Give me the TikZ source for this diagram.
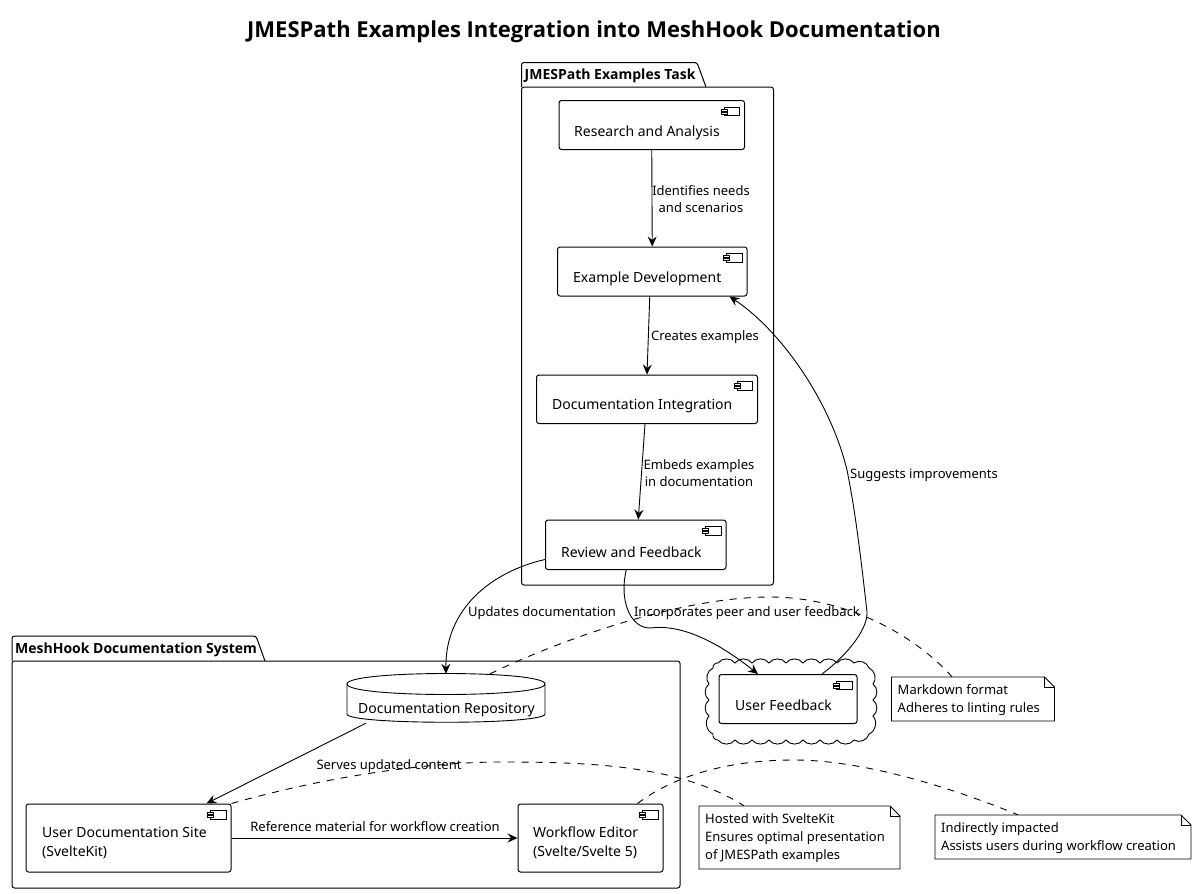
\documentclass[tikz,border=0pt]{standalone}
\usepackage{fontspec}
\setmainfont{Noto Sans}
\newfontfamily\headfont{Open Sans}
\usetikzlibrary{arrows.meta}
\tikzset{
  boxline/.style={draw=black,line width=1pt,rounded corners=2.5pt,inner sep=0pt,fill=white},
  lbl/.style={font=\fontsize{13}{16.5}\selectfont,align=center,inner sep=0pt},
  comptext/.style={font=\fontsize{14}{19}\selectfont,align=left,inner sep=0pt,anchor=west},
  pkgtext/.style={font=\headfont\fontsize{14}{16}\selectfont\bfseries,inner sep=0pt,anchor=west},
  conn/.style={line width=.9pt,-{Stealth[length=10pt,width=9pt,inset=3.5pt]}},
  dashline/.style={line width=.9pt,dash pattern=on 7pt off 7pt},
}
% name, x0,y0,x1,y1, textx,texty, text
\newcommand{\compbox}[8]{%
  \node[boxline,minimum width={(#4-#2)*1pt},minimum height={(#5-#3)*1pt}] (#1) at ({(#2+#4)/2},{(#3+#5)/2}) {};
  \draw[line width=.9pt,fill=white] (#4-20.5,#3+6.5) rectangle (#4-5,#3+15);
  \draw[line width=.9pt,fill=white] (#4-23.5,#3+8.5) rectangle (#4-17.5,#3+10.5);
  \draw[line width=.9pt,fill=white] (#4-23.5,#3+11.5) rectangle (#4-17.5,#3+13.5);
  \node[comptext] (#1t) at (#6,#7) {#8};
}
% name, x0,y0,x1,y1, text
\newcommand{\notebox}[6]{%
  \node[minimum width={(#4-#2)*1pt},minimum height={(#5-#3)*1pt},inner sep=0pt] (#1) at ({(#2+#4)/2},{(#3+#5)/2}) {};
  \draw[line width=.9pt,fill=white] (#2,#3) -- (#4-10,#3) -- (#4,#3+10) -- (#4,#5) -- (#2,#5) -- cycle;
  \draw[line width=.9pt] (#4-10,#3) -- (#4-10,#3+10) -- (#4,#3+10);
  \node[font=\fontsize{13}{18}\selectfont,align=left,inner sep=0pt,anchor=west] (#1t) at (#2+6,{(#3+#5)/2+1}) {#6};
}
% name, x0,ytab,ybody,tabx,x1,y1,text
\newcommand{\pkg}[8]{%
  \draw[line width=1pt,rounded corners=2.5pt] (#2,#4) -- (#2,#3) -- (#5-9,#3) -- (#5,#4);
  \draw[line width=1pt,rounded corners=2.5pt] (#2,#4) -- (#6,#4) -- (#6,#7) -- (#2,#7) -- cycle;
  \node[pkgtext] (#1) at (#2+3,{(#3+#4)/2+1}) {#8};
}
\begin{document}
\begin{tikzpicture}[x=1pt,y=-1pt]
\useasboundingbox (0,0) rectangle (1197,894);
\node[font=\headfont\fontsize{22}{26}\selectfont\bfseries,inner sep=0pt] (title) at (594,31.5) {JMESPath Examples Integration into MeshHook Documentation};

\pkg{pa}{521.5}{62.5}{87}{706}{773.5}{585}{JMESPath Examples Task}
\pkg{pb}{12}{636}{661}{265}{680}{888}{MeshHook Documentation System}

\compbox{rs}{559}{100.5}{744.5}{149.5}{574}{132.5}{Research and Analysis}
\compbox{ex}{557.5}{247}{747}{296}{573}{278.5}{Example Development}
\compbox{di}{536.5}{375}{757.5}{423.5}{552}{406.5}{Documentation Integration}
\compbox{rv}{545.5}{520}{726}{569.5}{561}{552.5}{Review and Feedback}

% cloud
\draw[line width=.9pt] (713,668) foreach \x in {718,735,752,769,786,803,820,837,854} { to[bend left=55] (\x,663) }
  to[bend left=55] (869,668) foreach \y in {684,700,716} { to[bend left=55] (873,\y) }
  to[bend left=55] (869,734) foreach \x in {854,837,820,803,786,769,752,735,718} { to[bend left=55] (\x,740) }
  to[bend left=55] (713,734) foreach \y in {716,700,684} { to[bend left=55] (709,\y) }
  to[bend left=55] (713,668);
\compbox{uf}{719}{674.5}{857}{723.5}{735}{705.5}{User Feedback}

% database
\node[inner sep=0pt,minimum width=198pt,minimum height=48pt] (db) at (446,698) {};
\draw[line width=.9pt,fill=white] (347,684) .. controls (347,670) and (545,670) .. (545,684)
  -- (545,714) .. controls (545,725) and (347,725) .. (347,714) -- cycle;
\draw[line width=.9pt] (347,684) .. controls (347,698) and (545,698) .. (545,684);
\node[comptext] (dbt) at (358,710) {Documentation Repository};

\compbox{site}{26}{804}{231}{872}{42}{0}{}
\node[comptext] (sitet) at (42,843) {User Documentation Site\\(SvelteKit)};
\compbox{we}{518}{804}{663}{872}{533}{0}{}
\node[comptext] (wet) at (533,843) {Workflow Editor\\(Svelte/Svelte 5)};

\notebox{n1}{891.5}{677}{1054.5}{721}{Markdown format\\Adheres to linting rules}
\notebox{n2}{699}{806}{900}{869}{Hosted with SvelteKit\\Ensures optimal presentation\\of JMESPath examples}
\notebox{n3}{935}{815}{1191}{859}{Indirectly impacted\\Assists users during workflow creation}

% connectors
\draw[conn] (rs.south) -- (ex.north);
\draw[conn] ([xshift=-2.5pt]ex.south) -- ([xshift=0pt]di.north);
\draw[conn] ([xshift=-2pt]di.south) -- ([xshift=2.5pt]rv.north);
\draw[conn] ([yshift=10.5pt]rv.south west) .. controls (490,572) and (445,610) .. ([yshift=0pt]db.north);
\draw[conn] ([xshift=-9.5pt]rv.south) .. controls (619,600) and (630,628) .. (650,628)
   .. controls (680,624) and (715,640) .. ([xshift=-30pt]uf.north);
\draw[conn] ([xshift=34pt]uf.north) .. controls (845,657) and (868,630) .. (867,612)
   .. controls (860,550) and (855,510) .. (847,470) .. controls (830,400) and (780,330) .. ([xshift=-18pt]ex.south east);
\draw[conn] (site.east) -- (we.west);
\draw[conn] ([xshift=-80pt,yshift=-1pt]db.south) -- ([xshift=78pt]site.north);

\draw[dashline] ([xshift=44pt]db.north) .. controls (560,640) and (680,597) .. (770,597)
   .. controls (840,597) and (910,630) .. ([xshift=-21pt]n1.north);
\draw[dashline] (site.north east) .. controls (350,770) and (450,762) .. (500,762)
   .. controls (590,762) and (680,765) .. ([xshift=-55.5pt]n2.north);
\draw[dashline] ([xshift=47pt]we.north) .. controls (675,775) and (730,760) .. (794,760)
   .. controls (860,760) and (945,785) .. ([xshift=-45pt]n3.north);

% connector labels
\node[lbl] (l1) at (701,199) {Identifies needs\\and scenarios};
\node[lbl] (l2) at (705,337) {Creates examples};
\node[lbl] (l3) at (699,473) {Embeds examples\\in documentation};
\node[lbl] (l4) at (542,613) {Updates documentation};
\node[lbl] (l5) at (747,613) {Incorporates peer and user feedback};
\node[lbl] (l6) at (924,475) {Suggests improvements};
\node[lbl] (l7) at (389,766) {Serves updated content};
\node[lbl] (l8) at (375,827) {Reference material for workflow creation};
\end{tikzpicture}
\end{document}
